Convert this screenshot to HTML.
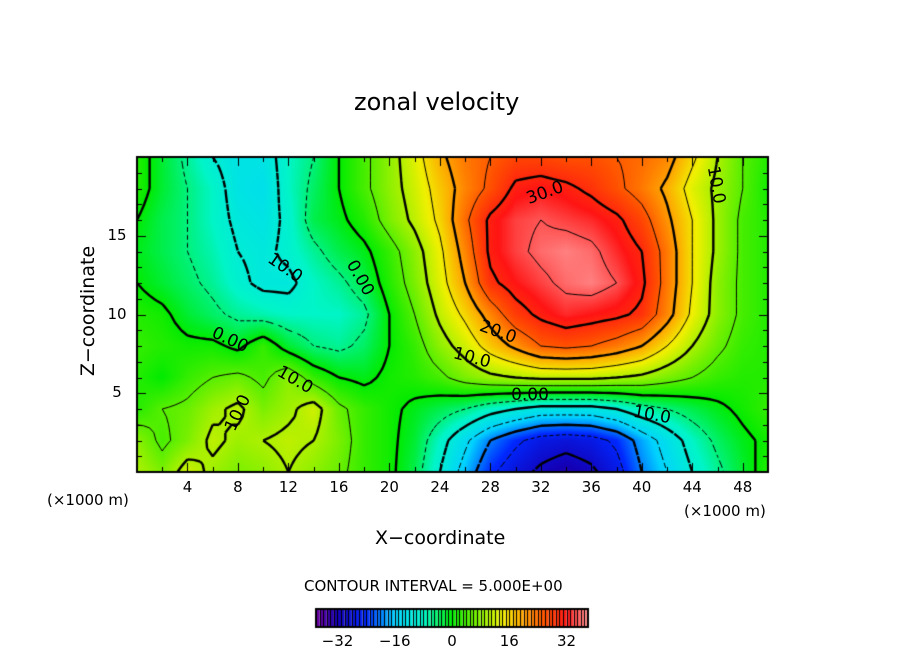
<!DOCTYPE html>
<html><head><meta charset="utf-8">
<style>
body{margin:0;background:#fff;width:904px;height:654px;overflow:hidden;position:relative;font-family:"DejaVu Sans","Liberation Sans",sans-serif;}
.t{position:absolute;white-space:nowrap;color:#000;}
canvas{position:absolute;left:0;top:0;}
</style></head>
<body>
<canvas id="c" width="904" height="654"></canvas>
<div class="t" style="left:354px;top:88px;font-size:24px;">zonal velocity</div>
<div class="t" style="left:-12px;top:300px;font-size:19px;transform:rotate(-90deg);width:200px;text-align:center;">Z−coordinate</div>
<div class="t" style="left:375px;top:527px;font-size:19px;">X−coordinate</div>
<div class="t" style="left:47px;top:491px;font-size:15px;">(×1000 m)</div>
<div class="t" style="left:684px;top:502px;font-size:15px;">(×1000 m)</div>
<div class="t" style="left:304px;top:577px;font-size:15px;">CONTOUR INTERVAL = 5.000E+00</div>
<div id="labels"></div>
<script>
const xVals=[0,2,4,6,8,10,12,14,16,18,20,22,24,26,28,30,32,34,36,38,40,42,44,46,48,50];
const zVals=[20,18,16,14,12,10,8,6,4,2,0];
const u20=[2,-2,-6,-10,-12,-12,-8,-5,0,4,8,13,19,23,25,27,27,26,26,25,24,22,16,10,5,2];
const u18=[2,-2,-5,-8,-12,-13,-8,-4,0,4,8,12,17,22,26,31,32,31,29,26,23,19,13,9,5,1];
const u16=[0,-3,-5,-8,-11,-12,-9,-3,-1,2,7,11,16,24,31,34,35,34,33,31,27,21,15,9,4,2];
const u14=[-1,-3,-5,-7,-10,-11,-9,-6,-3,-1,3,8,14,22,31,34,36,37,36,33,30,23,15,9,4,2];
const u12=[0,-2,-4,-6,-9,-11,-11,-8,-6,-3,2,7,13,20,29,32,34,36,37,35,31,23,15,8,4,2];
const u10=[2,1,-2,-4,-6,-7,-8,-8,-8,-6,0,5,11,16,22,28,31,33,32,31,29,22,14,8,4,2];
const u8=[3,2,1,1,-1,3,-2,-5,-6,-4,0,3,8,12,17,21,25,26,25,23,20,15,10,6,3,2];
const u6=[2,0,3,5,6,4,8,3,0,-1,1,2,4,7,9,10,11,11,11,10,9,7,5,3,2,2];
const u4=[2,5,6,9,11,7,9,12,6,3,1,-1,-3,-5,-8,-10,-12,-12,-12,-10,-7,-5,-3,-1,1,3];
const u2=[8,4,7,11,9,10,11,10,7,3,1,-2,-8,-14,-20,-24,-27,-28,-27,-24,-18,-13,-8,-4,-1,1];
const u0=[10,7,12,9,7,8,10,8,6,3,1,-3,-10,-17,-24,-28,-31,-33,-31,-27,-20,-15,-10,-6,-2,2];
const rows=[u20,u18,u16,u14,u12,u10,u8,u6,u4,u2,u0];
const xTicks=[4,8,12,16,20,24,28,32,36,40,44,48];
const zTicks=[5,10,15];
const cbTicks=[-32,-16,0,16,32];
const levels=[-30,-25,-20,-15,-10,-5,0,5,10,15,20,25,30,35];

const L=137,R=768,T=157,B=472;
const xs=x=>L+(x-0)/(50-0)*(R-L);
const zs=z=>B-(z-0)/(20-0)*(B-T);
const stops=[[-38,110,0,160],[-32,20,0,180],[-24,0,40,255],[-16,0,210,255],[-8,0,245,200],[0,0,235,0],[8,140,240,0],[14,240,240,0],[20,255,160,0],[26,255,80,0],[32,255,20,20],[38,255,150,150]];
function col(v){
  if(v<=stops[0][0])return stops[0].slice(1);
  for(let i=1;i<stops.length;i++){if(v<=stops[i][0]){const a=stops[i-1],b=stops[i],t=(v-a[0])/(b[0]-a[0]);return [0,1,2].map(k=>Math.round(a[k+1]+(b[k+1]-a[k+1])*t));}}
  return stops[stops.length-1].slice(1);
}
function val(x,z){
  let fi=(x-xVals[0])/(xVals[1]-xVals[0]);let fj=(zVals[0]-z)/(zVals[0]-zVals[1]);
  fi=Math.max(0,Math.min(xVals.length-1.0001,fi));fj=Math.max(0,Math.min(zVals.length-1.0001,fj));
  const i=Math.floor(fi),j=Math.floor(fj),a=fi-i,b=fj-j;
  return rows[j][i]*(1-a)*(1-b)+rows[j][i+1]*a*(1-b)+rows[j+1][i]*(1-a)*b+rows[j+1][i+1]*a*b;
}
const cv=document.getElementById('c'),ctx=cv.getContext('2d');
const img=ctx.createImageData(R-L,B-T);
for(let py=0;py<B-T;py++)for(let px=0;px<R-L;px++){
  const x=(px+0.5)/(R-L)*50,z=20-(py+0.5)/(B-T)*20;const c=col(val(x,z));const k=(py*(R-L)+px)*4;
  img.data[k]=c[0];img.data[k+1]=c[1];img.data[k+2]=c[2];img.data[k+3]=255;}
ctx.putImageData(img,L,T);
const N=100,M=40;
const g=[];for(let j=0;j<=M;j++){g.push([]);for(let i=0;i<=N;i++)g[j].push(val(i/N*50,20-j/M*20));}
levels.forEach(lv=>{
  ctx.beginPath();
  ctx.lineWidth=(lv%10===0)?2.4:1;
  ctx.setLineDash(lv<0?(lv%10===0?[7,4]:[4,3]):[]);
  ctx.strokeStyle='#000';
  for(let j=0;j<M;j++)for(let i=0;i<N;i++){
    const c=[[i,j],[i+1,j],[i+1,j+1],[i,j+1]];const v=c.map(p=>g[p[1]][p[0]]);const pts=[];
    for(let e=0;e<4;e++){const a=e,b=(e+1)%4;if((v[a]<lv)!==(v[b]<lv)){const t=(lv-v[a])/(v[b]-v[a]);
      const gx=c[a][0]+(c[b][0]-c[a][0])*t,gy=c[a][1]+(c[b][1]-c[a][1])*t;pts.push([L+gx/N*(R-L),T+gy/M*(B-T)]);}}
    for(let k=0;k+1<pts.length;k+=2){ctx.moveTo(pts[k][0],pts[k][1]);ctx.lineTo(pts[k+1][0],pts[k+1][1]);}
  }
  ctx.stroke();
});
ctx.setLineDash([]);
ctx.lineWidth=2;ctx.strokeStyle='#000';ctx.strokeRect(L,T,R-L,B-T);
ctx.lineWidth=1;ctx.beginPath();
for(let x=2;x<50;x+=2){const len=x%4===0?9:5;const X=Math.round(xs(x))+0.5;ctx.moveTo(X,B);ctx.lineTo(X,B-len);ctx.moveTo(X,T);ctx.lineTo(X,T+len);}
for(let z=1;z<20;z++){const len=z%5===0?9:5;const Y=Math.round(zs(z))+0.5;ctx.moveTo(L,Y);ctx.lineTo(L+len,Y);ctx.moveTo(R,Y);ctx.lineTo(R-len,Y);}
ctx.stroke();
const cbL=316,cbR=588,cbT=609,cbB=627,vmin=-38,vmax=38,nb=76;
for(let b=0;b<nb;b++){const v=vmin+(b+0.5)*(vmax-vmin)/nb;const c=col(v);const x0=cbL+b*(cbR-cbL)/nb,x1=cbL+(b+1)*(cbR-cbL)/nb;
  ctx.fillStyle=`rgb(${c[0]},${c[1]},${c[2]})`;ctx.fillRect(x0,cbT,x1-x0,cbB-cbT);
  ctx.fillStyle='#000';ctx.fillRect(Math.round(x0),cbT,1,cbB-cbT);}
ctx.lineWidth=2;ctx.strokeRect(cbL,cbT,cbR-cbL,cbB-cbT);
const lab=document.getElementById('labels');
function addT(txt,x,y,size,name,extra){const d=document.createElement('div');d.className='t';d.textContent=txt;
  
  
  d.style.cssText=`left:${x}px;top:${y}px;font-size:${size}px;transform:translate(-50%,0) ${extra||''};`;lab.appendChild(d);}
xTicks.forEach(t=>addT(String(t),xs(t),478,15,'x-tick-label'));
zTicks.forEach(t=>addT(String(t),117,zs(t)-10,15,'y-tick-label'));
cbTicks.forEach(t=>addT(t<0?'−'+(-t):String(t),cbL+(t-vmin)/(vmax-vmin)*(cbR-cbL),632,15,'colorbar-tick-label'));
const cl=[['10.0',285,258,'rotate(35deg)'],['0.00',360,268,'rotate(60deg)'],['0.00',230,330,'rotate(25deg)'],['10.0',295,370,'rotate(30deg)'],['10.0',238,403,'rotate(-65deg)'],['30.0',545,183,'rotate(-20deg)'],['20.0',498,322,'rotate(20deg)'],['10.0',472,348,'rotate(15deg)'],['0.00',530,385,''],['10.0',652,405,'rotate(10deg)'],['10.0',716,175,'rotate(80deg)']];
cl.forEach(c=>addT(c[0],c[1],c[2],17,'contour-label',c[3]));
</script>
</body></html>
